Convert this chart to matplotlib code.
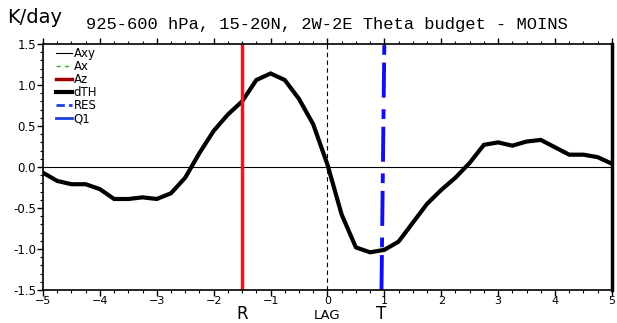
import numpy as np
import matplotlib
matplotlib.use("Agg")
import matplotlib.pyplot as plt
from matplotlib.lines import Line2D
from matplotlib.ticker import MultipleLocator

# Lag (days) and dTH budget term (K/day)
lag = np.arange(-5, 5.01, 0.25)
dth = [-0.07, -0.17, -0.21, -0.21, -0.27, -0.39, -0.39, -0.37, -0.39, -0.32,
       -0.13, 0.17, 0.44, 0.64, 0.80, 1.06, 1.14, 1.06, 0.83, 0.52,
       0.03, -0.58, -0.98, -1.04, -1.01, -0.91, -0.68, -0.45, -0.28, -0.13,
       0.05, 0.27, 0.30, 0.26, 0.31, 0.33, 0.24, 0.15, 0.15, 0.12, 0.04]

# marker lines
r_lag = -1.5
res_x = [0.95, 1.0]
res_y = [-1.5, 1.5]
marker_labels = ["R", "LAG", "T"]
marker_pos = [-1.5, 0, 0.95]

fig = plt.figure(figsize=(6.17, 3.23), dpi=100)
ax = fig.add_axes([0.0697, 0.102, 0.922, 0.762])

ax.axhline(0, color="black", linewidth=0.8)
ax.axvline(0, color="black", linewidth=0.8, linestyle=(0, (4, 3)))
ax.plot(lag, dth, color="black", linewidth=3, solid_joinstyle="miter")
ax.axvline(r_lag, color="#ff1010", linewidth=2.5)
ax.plot(res_x, res_y, color="#1010ee", linewidth=2.8,
        linestyle=(0, (9, 2, 2.5, 3)))

ax.set_xlim(-5, 5)
ax.set_ylim(-1.5, 1.5)
ax.xaxis.set_major_locator(MultipleLocator(1))
ax.xaxis.set_minor_locator(MultipleLocator(0.25))
ax.yaxis.set_minor_locator(MultipleLocator(0.1))
ax.set_yticks(np.arange(-1.5, 1.51, 0.5))
ax.set_yticklabels([f"{v:.1f}" for v in np.arange(-1.5, 1.51, 0.5)])
ax.tick_params(which="both", direction="out", top=True, right=False,
               labelsize=8.5, pad=1)
ax.tick_params(axis="x", labelsize=8, pad=0.5)
ax.tick_params(which="major", length=4, width=1)
ax.tick_params(which="minor", length=2.5, width=0.8)
for s in ["left", "bottom", "top"]:
    ax.spines[s].set_linewidth(1.2)
ax.spines["right"].set_linewidth(2.5)

for lab, pos in zip(marker_labels, marker_pos):
    size = 9.5 if lab == "LAG" else 12
    ax.annotate(lab, xy=(pos, 0.004 if lab == "LAG" else 0.0),
                xycoords=("data", "figure fraction"),
                ha="center", va="bottom", fontsize=size)

fig.text(0.012, 0.915, "K/day", fontsize=14, ha="left", va="bottom")
fig.text(0.53, 0.9, "925-600 hPa, 15-20N, 2W-2E Theta budget - MOINS",
         fontsize=12.3, family="Liberation Mono", ha="center", va="bottom")

handles = [
    Line2D([], [], color="black", linewidth=0.8),
    Line2D([], [], color="#30b030", linewidth=1, linestyle=(0, (3, 3))),
    Line2D([], [], color="#a00000", linewidth=2.5),
    Line2D([], [], color="black", linewidth=3),
    Line2D([], [], color="#2040e0", linewidth=2, linestyle=(0, (3, 1.5, 1.5, 1.5))),
    Line2D([], [], color="#2040e0", linewidth=2),
]
ax.legend(handles, ["Axy", "Ax", "Az", "dTH", "RES", "Q1"], loc="upper left",
          frameon=False, fontsize=8.5, handlelength=1.4, handletextpad=0.1,
          labelspacing=0.0, borderaxespad=0.1, bbox_to_anchor=(0.012, 1.01))

fig.savefig("out.png", dpi=100)
